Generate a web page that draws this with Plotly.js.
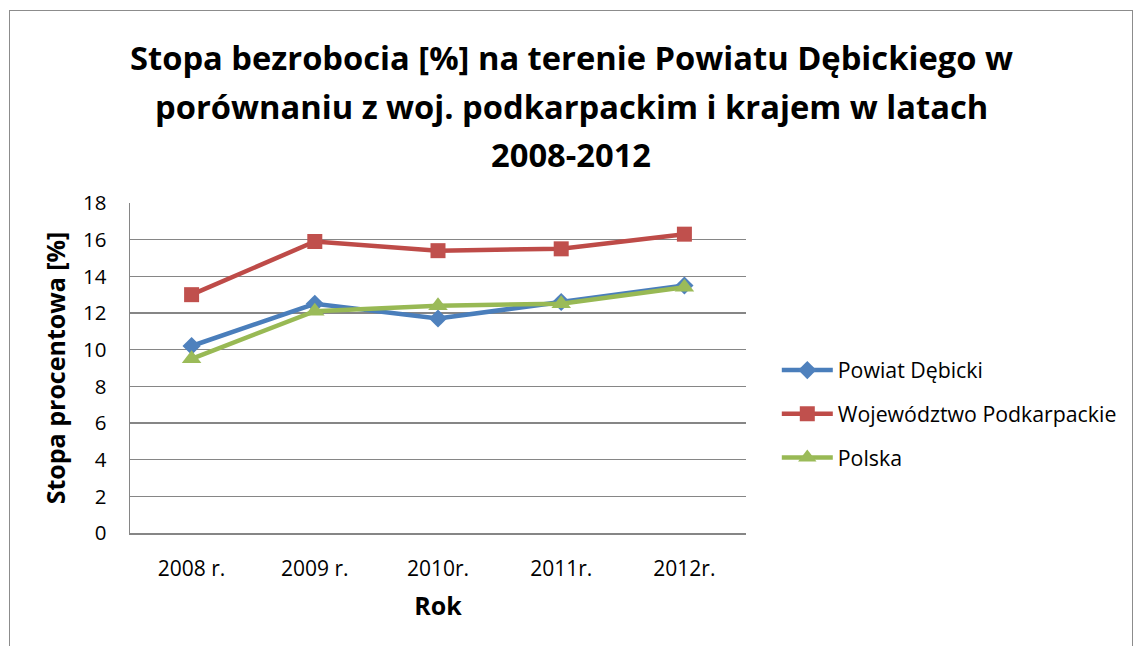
<!DOCTYPE html>
<html>
<head>
<meta charset="utf-8">
<script src="https://cdn.plot.ly/plotly-3.0.1.min.js"></script>
<style>
  html, body { margin: 0; padding: 0; width: 1134px; height: 646px; overflow: hidden; background: #fff; }
  #frame { position: absolute; left: 9px; top: 10px; width: 1124px; height: 700px; border: 1.5px solid #8c8c8c; box-sizing: border-box; pointer-events: none; z-index: 5; }
  #chart { position: absolute; left: 0; top: 0; width: 1134px; height: 646px; }
</style>
</head>
<body>
<div id="chart"></div>
<div id="frame"></div>
<script>
const years = ["2008 r.", "2009 r.", "2010r.", "2011r.", "2012r."];
const powiatDebicki = [10.2, 12.5, 11.7, 12.6, 13.5];
const wojPodkarpackie = [13.0, 15.9, 15.4, 15.5, 16.3];
const polska = [9.5, 12.1, 12.4, 12.5, 13.4];
const seriesNames = ["Powiat Dębicki", "Województwo Podkarpackie", "Polska"];
const titleLines = [
  "Stopa bezrobocia [%] na terenie Powiatu Dębickiego w",
  "porównaniu z woj. podkarpackim i krajem w latach",
  "2008-2012"
];
const yTitle = "Stopa procentowa [%]";
const xTitle = "Rok";

const FONT = "'Open Sans', sans-serif";

const traces = [
  { x: years, y: powiatDebicki, name: seriesNames[0], type: "scatter", mode: "lines+markers",
    line: { color: "#4A7EBB", width: 4.5 }, marker: { symbol: "diamond", size: 14, color: "#4F81BD" }, legendgroup: "a" },
  { x: years, y: wojPodkarpackie, name: seriesNames[1], type: "scatter", mode: "lines+markers",
    line: { color: "#BE4B48", width: 4.5 }, marker: { symbol: "square", size: 15, color: "#C0504D" }, legendgroup: "b" },
  { x: years, y: polska, name: seriesNames[2], type: "scatter", mode: "lines+markers",
    line: { color: "#98B954", width: 4.5 }, marker: { symbol: "triangle-up", size: 17, color: "#9BBB59" }, legendgroup: "c" }
];

const titleY = [1.4424, 1.2939, 1.1455];
const annotations = titleLines.map((t, i) => ({
  text: "<b>" + t + "</b>", xref: "paper", yref: "paper", x: 0.716, y: titleY[i],
  xanchor: "center", yanchor: "middle", showarrow: false,
  font: { family: FONT, size: 32.7, color: "#000" }
}));

const layout = {
  width: 1134, height: 646,
  margin: { l: 130, r: 388, t: 203, b: 113 },
  paper_bgcolor: "#fff", plot_bgcolor: "#fff",
  font: { family: FONT, color: "#000", size: 18 },
  showlegend: true,
  legend: { x: 1.05, y: 0.36, xanchor: "left", yanchor: "middle", traceorder: "grouped", tracegroupgap: 13, itemwidth: 51,
    font: { family: FONT, size: 21.3, color: "#000" }, bgcolor: "rgba(0,0,0,0)" },
  xaxis: { type: "category", range: [-0.5, 4.5], showgrid: false, showline: true, linecolor: "#868686", linewidth: 1.5,
    ticks: "", ticklabelstandoff: 16, tickfont: { family: FONT, size: 21 },
    title: { text: "<b>" + xTitle + "</b>", font: { family: FONT, size: 25 }, standoff: 17 }, zeroline: false, fixedrange: true },
  yaxis: { range: [0, 18], dtick: 2, showgrid: true, gridcolor: "#868686", gridwidth: 1.2, showline: true, linecolor: "#868686", linewidth: 1.5,
    ticks: "", ticklabelstandoff: 18, tickfont: { family: FONT, size: 20.5 }, zeroline: false,
    title: { text: "<b>" + yTitle + "</b>", font: { family: FONT, size: 25 }, standoff: 10 }, fixedrange: true },
  annotations: annotations
};

Plotly.newPlot("chart", traces, layout, { displayModeBar: false, staticPlot: true });
</script>
</body>
</html>
